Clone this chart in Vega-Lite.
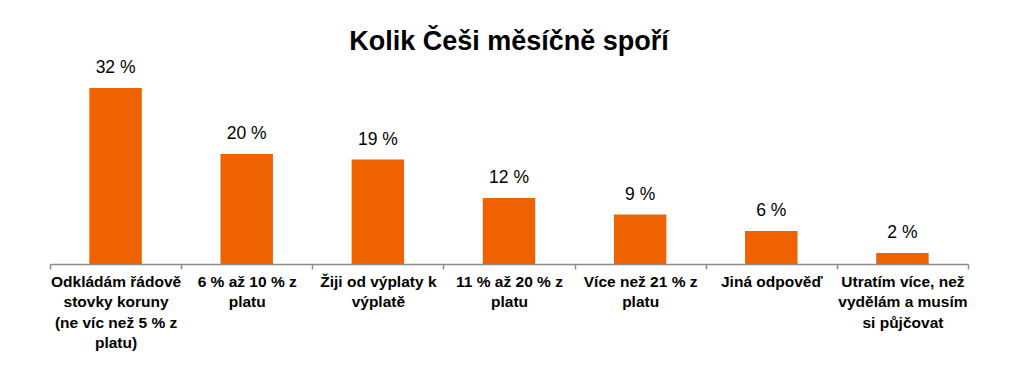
{
  "$schema": "https://vega.github.io/schema/vega-lite/v6.json",
  "width": 918,
  "height": 198,
  "autosize": {"type": "none"},
  "padding": {"left": 50, "top": 66, "right": 56, "bottom": 101},
  "background": "white",
  "title": {
    "text": "Kolik Češi měsíčně spoří",
    "font": "Liberation Sans",
    "fontSize": 27,
    "fontWeight": "bold",
    "color": "#000000",
    "anchor": "middle",
    "offset": 3
  },
  "data": {
    "values": [
      {"kategorie": "Odkládám řádově|stovky koruny|(ne víc než 5 % z|platu)", "podil": 32, "popisek": "32 %"},
      {"kategorie": "6 % až 10 % z|platu", "podil": 20, "popisek": "20 %"},
      {"kategorie": "Žiji od výplaty k|výplatě", "podil": 19, "popisek": "19 %"},
      {"kategorie": "11 % až 20 % z|platu", "podil": 12, "popisek": "12 %"},
      {"kategorie": "Více než 21 % z|platu", "podil": 9, "popisek": "9 %"},
      {"kategorie": "Jiná odpověď", "podil": 6, "popisek": "6 %"},
      {"kategorie": "Utratím více, než|vydělám a musím|si půjčovat", "podil": 2, "popisek": "2 %"}
    ]
  },
  "encoding": {
    "x": {
      "field": "kategorie",
      "type": "nominal",
      "sort": null,
      "scale": {"paddingInner": 0, "paddingOuter": 0},
      "axis": {
        "title": null,
        "labelAngle": 0,
        "labelExpr": "split(datum.label, '|')",
        "labelFont": "Liberation Sans",
        "labelFontSize": 15.5,
        "labelFontWeight": "bold",
        "labelColor": "#000000",
        "labelLineHeight": 20.5,
        "labelPadding": 5,
        "labelAlign": "center",
        "labelBaseline": "top",
        "tickBand": "extent",
        "tickSize": 5,
        "tickColor": "#8c8c8c",
        "domainColor": "#8c8c8c",
        "domainWidth": 1.5,
        "tickWidth": 1.5,
        "grid": false
      }
    },
    "y": {
      "field": "podil",
      "type": "quantitative",
      "scale": {"domain": [0, 36], "nice": false},
      "axis": null
    }
  },
  "layer": [
    {
      "mark": {"type": "bar", "color": "#EE6300", "width": {"band": 0.4}}
    },
    {
      "mark": {
        "type": "text",
        "dy": -11,
        "baseline": "bottom",
        "font": "Liberation Sans",
        "fontSize": 17.5,
        "color": "#000000"
      },
      "encoding": {"text": {"field": "popisek"}}
    }
  ],
  "config": {"view": {"stroke": null}}
}
